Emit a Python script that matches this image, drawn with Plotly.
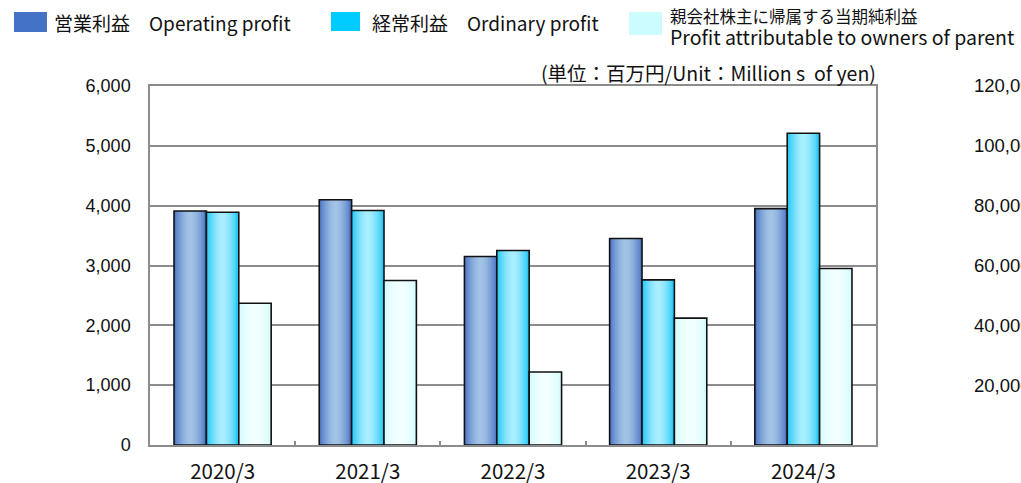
import plotly.graph_objects as go

# ---------------- data ----------------
categories = ["2020/3", "2021/3", "2022/3", "2023/3", "2024/3"]
operating_profit = [3910, 4100, 3150, 3450, 3950]
ordinary_profit = [3890, 3920, 3250, 2760, 5210]
profit_parent = [2370, 2750, 1220, 2120, 2950]
left_ticks = [0, 1000, 2000, 3000, 4000, 5000, 6000]
right_ticks = [20000, 40000, 60000, 80000, 100000, 120000]

series = [
    ("営業利益　Operating profit", operating_profit, "#4a72c4", "#a3c4e6", "#4472c4"),
    ("経常利益　Ordinary profit", ordinary_profit, "#1ec6f6", "#aaeefe", "#00ccff"),
    ("親会社株主に帰属する当期純利益", profit_parent, "#d3fbff", "#f3ffff", "#ccfcff"),
]

W, H = 1021, 483
PX_L, PX_R, PX_T, PX_B = 150, 876, 86, 445

def hx(c):
    c = c.lstrip("#")
    return [int(c[i:i + 2], 16) for i in (0, 2, 4)]

def mix(a, b, t):
    a, b = hx(a), hx(b)
    return "rgb(%d,%d,%d)" % tuple(round(a[i] + (b[i] - a[i]) * t) for i in range(3))

fig = go.Figure()

bar_w = 0.223
n_strips = 18
for si, (name, vals, edge, center, _) in enumerate(series):
    base_off = -1.5 * bar_w + si * bar_w
    sw = bar_w / n_strips
    for k in range(n_strips):
        t = (k + 0.5) / n_strips
        prof = max(0.0, 1 - abs(2 * t - 1) ** 1.6)
        fig.add_trace(go.Bar(
            x=categories, y=vals, width=[bar_w - k * sw] * len(vals),
            offset=[base_off + k * sw] * len(vals),
            marker=dict(color=mix(edge, center, prof), line=dict(width=0)),
            showlegend=False, hoverinfo="skip",
        ))
    fig.add_trace(go.Bar(
        x=categories, y=vals, width=[bar_w] * len(vals),
        offset=[base_off] * len(vals), name=name,
        marker=dict(color="rgba(0,0,0,0)", line=dict(width=1.6, color="#111111")),
        showlegend=False,
    ))

# invisible trace for right axis
fig.add_trace(go.Scatter(x=categories, y=[None] * len(categories), yaxis="y2",
                         showlegend=False, hoverinfo="skip"))

grid_col = "#8c8c8c"
fig.update_layout(
    width=W, height=H,
    margin=dict(l=0, r=0, t=0, b=0),
    paper_bgcolor="white", plot_bgcolor="white",
    barmode="overlay",
    showlegend=False,
    xaxis=dict(
        domain=[PX_L / W, PX_R / W],
        type="category",
        showline=True, linecolor=grid_col, linewidth=1.5, mirror=True,
        ticks="inside", tickson="boundaries", ticklen=4, tickcolor=grid_col, tickwidth=1.5,
        tickfont=dict(family="Noto Sans CJK JP", size=20.5, color="#111"),
        ticklabelstandoff=8,
        showgrid=False, automargin=False,
    ),
    yaxis=dict(
        domain=[(H - PX_B) / H, (H - PX_T) / H],
        range=[0, 6000],
        tickvals=left_ticks,
        ticktext=[f"{v:,}" for v in left_ticks],
        showgrid=True, gridcolor=grid_col, gridwidth=1.5,
        showline=True, linecolor=grid_col, linewidth=1.5, mirror=True,
        ticks="", zeroline=False,
        tickfont=dict(family="Liberation Sans", size=18, color="#111"),
        ticklabelstandoff=14,
        automargin=False,
    ),
    yaxis2=dict(
        overlaying="y", side="right", anchor="free", position=973 / W,
        range=[0, 120000],
        tickvals=right_ticks,
        ticktext=[f"{v:,}" for v in right_ticks],
        showgrid=False, showline=False, zeroline=False, ticks="",
        tickfont=dict(family="Liberation Sans", size=18.5, color="#111"),
        automargin=False,
    ),
)

# legend (drawn as shapes + text)
leg = [
    (14, 47, 12, 32, series[0][4]),
    (331, 360, 12, 31, series[1][4]),
    (629, 662, 12, 35, series[2][4]),
]
for x0, x1, y0, y1, col in leg:
    fig.add_shape(type="rect", xref="paper", yref="paper",
                  x0=x0 / W, x1=x1 / W, y0=1 - y1 / H, y1=1 - y0 / H,
                  fillcolor=col, line=dict(width=0))

def ann(text, x, y, size, xanchor="left"):
    fig.add_annotation(text=text, xref="paper", yref="paper", x=x / W, y=1 - y / H,
                       xanchor=xanchor, yanchor="middle", showarrow=False,
                       font=dict(family="Noto Sans CJK JP", size=size, color="#111"))

ann("営業利益　Operating profit", 52, 22, 19)
ann("経常利益　Ordinary profit", 370, 22, 19)
ann("親会社株主に帰属する当期純利益", 668, 16, 16.5)
ann("Profit attributable to owners of parent", 668, 37, 19.5)
ann("(単位：百万円/Unit：Million s  of yen)", 878, 72, 19.5, xanchor="right")

fig.write_html("out.html", config={"displayModeBar": False},
               post_script="document.body.style.margin='0';document.body.style.overflow='hidden';")
